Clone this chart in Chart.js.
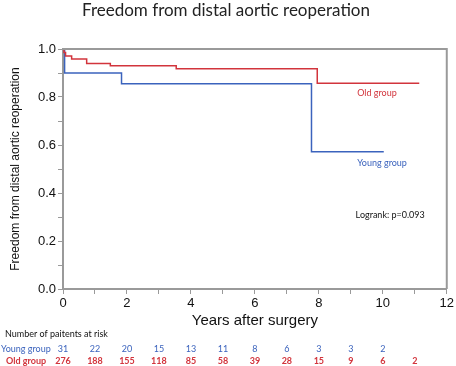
<!DOCTYPE html>
<html>
<head>
<meta charset="utf-8">
<script src="https://cdn.jsdelivr.net/npm/chart.js@4/dist/chart.umd.min.js"></script>
<style>
  html, body { margin: 0; padding: 0; background: #fff; }
  #wrap { width: 456px; height: 366px; }
</style>
</head>
<body>
<div id="wrap"><canvas id="km" width="456" height="366"></canvas></div>
<script>
        // Data
        const youngYears = [0, 0.05, 1.83, 7.77, 10.03];
        const youngSurv  = [1, 0.90, 0.855, 0.572, 0.572];
        const oldYears   = [0, 0.03, 0.08, 0.27, 0.74, 1.48, 3.54, 7.95, 11.14];
        const oldSurv    = [1, 0.985, 0.971, 0.958, 0.94, 0.93, 0.918, 0.857, 0.857];

        // Number at risk table
        const riskYears = [0, 1, 2, 3, 4, 5, 6, 7, 8, 9, 10, 11];
        const youngRisk = [31, 22, 20, 15, 13, 11, 8, 6, 3, 3, 2];
        const oldRisk   = [276, 188, 155, 118, 85, 58, 39, 28, 15, 9, 6, 2];

        const BLUE = '#3b63bd';
        const RED = '#d2343c';
        const AXIS = '#9a9a9a';
        const CAL = 'Lato, "Open Sans", sans-serif';
        const ARIAL = 'Liberation Sans, Arial, sans-serif';

        const toPts = (xs, ys) => xs.map((x, i) => ({ x: x, y: ys[i] }));

        // Extra drawing: title, box, annotations, risk table
        const extras = {
            id: 'extras',
            afterDraw(chart) {
                const { ctx, chartArea: a, scales: { x, y } } = chart;
                ctx.save();
                // box top + right
                ctx.strokeStyle = AXIS;
                ctx.lineWidth = 2;
                ctx.beginPath();
                ctx.moveTo(a.left, a.top);
                ctx.lineTo(a.right, a.top);
                ctx.lineTo(a.right, a.bottom);
                ctx.stroke();

                ctx.textBaseline = 'middle';
                ctx.textAlign = 'center';
                ctx.fillStyle = '#222';
                ctx.font = '17px ' + CAL;
                ctx.fillText('Freedom from distal aortic reoperation', 226, 11);

                ctx.textAlign = 'left';
                ctx.font = '9px ' + CAL;
                ctx.fillStyle = RED;
                ctx.fillText('Old group', x.getPixelForValue(9.2), y.getPixelForValue(0.815));
                ctx.fillStyle = BLUE;
                ctx.fillText('Young group', x.getPixelForValue(9.2), y.getPixelForValue(0.525));
                ctx.fillStyle = '#111';
                ctx.fillText('Logrank: p=0.093', x.getPixelForValue(9.15), y.getPixelForValue(0.31));

                // risk table
                ctx.fillStyle = '#111';
                ctx.font = '9px ' + CAL;
                ctx.fillText('Number of paitents at risk', 5, 334);
                ctx.fillStyle = BLUE;
                ctx.fillText('Young group', 1, 349);
                ctx.fillStyle = RED;
                ctx.font = 'bold 9px ' + CAL;
                ctx.fillText('Old group', 6, 361);
                ctx.textAlign = 'center';
                riskYears.forEach((yr, i) => {
                    const px = x.getPixelForValue(yr);
                    if (youngRisk[i] !== undefined) {
                        ctx.fillStyle = BLUE;
                        ctx.font = '9px ' + CAL;
                        ctx.fillText(String(youngRisk[i]), px, 349);
                    }
                    ctx.fillStyle = RED;
                    ctx.font = 'bold 9px ' + CAL;
                    ctx.fillText(String(oldRisk[i]), px, 361);
                });
                ctx.restore();
            }
        };

        new Chart(document.getElementById('km'), {
            type: 'line',
            data: {
                datasets: [
                    { label: 'Old group', data: toPts(oldYears, oldSurv), borderColor: RED, borderWidth: 1.5, stepped: true, pointRadius: 0, fill: false },
                    { label: 'Young group', data: toPts(youngYears, youngSurv), borderColor: BLUE, borderWidth: 1.5, stepped: true, pointRadius: 0, fill: false }
                ]
            },
            options: {
                responsive: false,
                animation: false,
                layout: { padding: { left: 8, right: 8, top: 49, bottom: 36 } },
                plugins: { legend: { display: false }, tooltip: { enabled: false } },
                scales: {
                    x: {
                        type: 'linear', min: 0, max: 12,
                        afterFit: (s) => { s.height = 41; },
                        border: { color: AXIS, width: 2 },
                        grid: { drawOnChartArea: false, color: AXIS, tickLength: 5 },
                        ticks: {
                            stepSize: 1, autoSkip: false, maxRotation: 0, color: '#111', padding: 2,
                            font: { family: ARIAL, size: 13 },
                            callback: (v) => (v % 2 === 0 ? v : '')
                        },
                        title: {
                            display: true, text: 'Years after surgery', color: '#111', padding: { top: 2, bottom: 0 },
                            font: { family: ARIAL, size: 15 }
                        }
                    },
                    y: {
                        min: 0, max: 1,
                        afterFit: (s) => { s.width = 55; },
                        border: { color: AXIS, width: 2 },
                        grid: { drawOnChartArea: false, color: AXIS, tickLength: 5 },
                        ticks: {
                            stepSize: 0.1, autoSkip: false, color: '#111', padding: 2,
                            font: { family: ARIAL, size: 13 },
                            callback: (v) => (Math.round(v * 10) % 2 === 0 ? v.toFixed(1) : '')
                        },
                        title: {
                            display: true, text: 'Freedom from distal aortic reoperation', color: '#111', padding: 0,
                            font: { family: ARIAL, size: 12 }
                        }
                    }
                }
            },
            plugins: [extras]
        });
</script>
</body>
</html>
